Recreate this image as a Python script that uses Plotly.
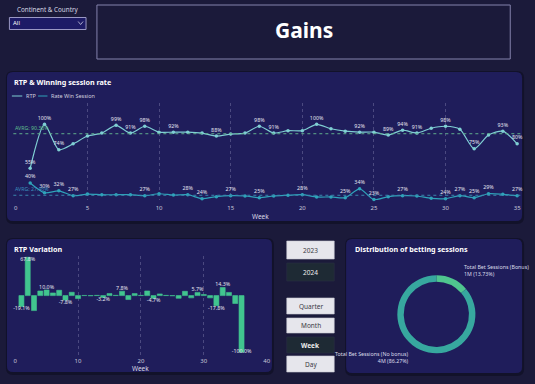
import plotly.graph_objects as go

W, H = 535, 384
PAGE_BG = "#1b1a3a"
PANEL_BG = "#1f1d5b"
FONT = "Noto Sans"

# ---------------- data ----------------
weeks = list(range(1, 36))
rtp = [55, 100, 74, 80, 88, 91, 99, 91, 98, 92, 92, 92, 91, 88, 90, 91, 98, 91,
       93.5, 93.5, 100, 95.5, 93, 92, 92, 89, 94, 91, 96, 98, 95, 75, 89, 93, 80]
rate_win = [40, 30, 32, 27, 28.7, 28, 28, 28, 27, 29, 27.7, 28, 24, 26, 27, 26.7, 25, 26.7,
            27.4, 28, 25.7, 25.7, 25, 34, 23, 26, 27, 26.7, 24.3, 24, 27, 25, 29, 28.4, 27]
rtp_label_weeks = [1, 2, 3, 7, 8, 9, 11, 14, 17, 18, 21, 24, 26, 27, 28, 30, 32, 34, 35]
rate_label_weeks = [1, 2, 3, 4, 9, 12, 13, 15, 17, 20, 23, 24, 25, 27, 30, 31, 32, 33, 35]
rtp_avg = 90.38
rate_avg = 27.46
week_ticks = [0, 5, 10, 15, 20, 25, 30, 35]

var_weeks = list(range(1, 37))
rtp_var = [-19.1, 67.8, -26.5, 8.2, 10.0, 4.7, 9.4, -7.8, 5.9, -5.3, 0.3, -0.3, 0.4, -3.2,
           3.5, 0.5, 7.8, -7.0, 3.5, 0.4, 8.2, -4.7, 3.0, 0.4, -0.3, -4.7, 7.6, -4.0, 5.7,
           2.0, -4.0, -17.8, 14.3, 5.6, -14.0, -100.0]
var_label_weeks = [1, 2, 5, 8, 14, 17, 22, 29, 32, 33, 36]
var_ticks = [0, 10, 20, 30, 40]

session_labels = ["Total Bet Sessions (Bonus)", "Total Bet Sessions (No bonus)"]
session_share = [13.73, 86.27]
session_count = ["1M", "4M"]

years = ["2023", "2024"]
selected_year = "2024"
granularity = ["Quarter", "Month", "Week", "Day"]
selected_gran = "Week"

# ---------------- helpers ----------------
def X(px):
    return px / W


def Y(py):
    return 1 - py / H


def rrect(x0, y0, x1, y1, r, fill, line=None, lw=0):
    rx, ry = r / W, r / H
    a, b = X(x0), X(x1)
    t, d = Y(y0), Y(y1)
    p = (f"M{a+rx},{t} L{b-rx},{t} Q{b},{t} {b},{t-ry} L{b},{d+ry} Q{b},{d} {b-rx},{d} "
         f"L{a+rx},{d} Q{a},{d} {a},{d+ry} L{a},{t-ry} Q{a},{t} {a+rx},{t} Z")
    return dict(type="path", path=p, xref="paper", yref="paper", fillcolor=fill,
                line=dict(color=line or fill, width=lw), layer="below")


def rect(x0, y0, x1, y1, fill, line=None, lw=0):
    return dict(type="rect", xref="paper", yref="paper", x0=X(x0), x1=X(x1), y0=Y(y1), y1=Y(y0),
                fillcolor=fill, line=dict(color=line or fill, width=lw), layer="below")


def text(x, y, s, size, color, bold=False, xanchor="center", align="center"):
    return dict(x=X(x), y=Y(y), xref="paper", yref="paper", text=(f"<b>{s}</b>" if bold else s),
                showarrow=False, xanchor=xanchor, yanchor="middle", align=align,
                font=dict(size=size, color=color, family=FONT))


shapes = []
annotations = []

# shadows + panels
for (x0, y0, x1, y1) in [(5, 72, 526, 221), (5, 239, 273, 372), (348, 239, 526, 373)]:
    shapes.append(rrect(x0 - 1, y0 - 1, x1 + 2, y1 + 3, 7, "rgba(8,8,25,0.45)"))
    shapes.append(rrect(x0, y0, x1, y1, 6, PANEL_BG))

# Gains title box
shapes.append(rect(96, 5, 514, 59, PAGE_BG, "#8583ad", 1))
annotations.append(text(305, 30, "Gains", 21, "#ffffff", bold=True))

# slicer
annotations.append(text(46.5, 10, "Continent &amp; Country", 6.3, "#d8d8e4"))
shapes.append(rect(7.5, 17.5, 85, 29.5, "#1d1b66", "#9a98c4", 1))
annotations.append(text(9.5, 23.5, "All", 6, "#ffffff", xanchor="left"))
shapes.append(dict(type="path", xref="paper", yref="paper",
                   path=f"M{X(77)},{Y(21.5)} L{X(79.5)},{Y(24.5)} L{X(82)},{Y(21.5)}",
                   line=dict(color="#c8c8e0", width=0.8)))

# panel titles
annotations.append(text(10.5, 81.5, "RTP &amp; Winning session rate", 7.2, "#ffffff", bold=True, xanchor="left"))
annotations.append(text(10.5, 248.5, "RTP Variation", 7.2, "#ffffff", bold=True, xanchor="left"))
annotations.append(text(355, 249, "Distribution of betting sessions", 7.2, "#ffffff", bold=True, xanchor="left"))

RTP_C = "#7fcfd3"
RATE_C = "#2fa3ba"
BAR_C = "#41c58f"

# legend (manual)
shapes.append(dict(type="line", xref="paper", yref="paper", x0=X(10), x1=X(20.5), y0=Y(96), y1=Y(96),
                   line=dict(color=RTP_C, width=1)))
annotations.append(text(22.5, 96, "RTP", 5.5, "#d0d0de", xanchor="left"))
shapes.append(dict(type="line", xref="paper", yref="paper", x0=X(36.5), x1=X(46), y0=Y(96), y1=Y(96),
                   line=dict(color=RATE_C, width=1)))
annotations.append(text(47.5, 96, "Rate Win Session", 5.5, "#d0d0de", xanchor="left"))

# average lines
shapes.append(dict(type="line", xref="x domain", yref="y", x0=-0.005, x1=1.008, y0=rtp_avg, y1=rtp_avg,
                   line=dict(color="#5fae8c", width=1, dash="dot")))
shapes.append(dict(type="line", xref="x domain", yref="y", x0=-0.005, x1=1.008, y0=rate_avg, y1=rate_avg,
                   line=dict(color="#3b86ad", width=1, dash="dot")))
annotations.append(dict(x=0, y=rtp_avg, xref="x", yref="y", text=f"AVRG: {rtp_avg:.2f}%", showarrow=False,
                        xanchor="left", yanchor="bottom", xshift=-3, yshift=0,
                        font=dict(size=5.2, color="#5fbf8e", family=FONT)))
annotations.append(dict(x=0, y=rate_avg, xref="x", yref="y", text=f"AVRG: {rate_avg:.2f}%", showarrow=False,
                        xanchor="left", yanchor="bottom", xshift=-3, yshift=0,
                        font=dict(size=5.2, color="#3b8fbd", family=FONT)))

# axis titles
annotations.append(text(261, 216, "Week", 6.5, "#d8d8e4"))
annotations.append(text(140.5, 368.5, "Week", 6.5, "#d8d8e4"))

# buttons
btns = [("2023", 241, 259), ("2024", 263, 281), ("Quarter", 298, 314), ("Month", 318, 333),
        ("Week", 337, 353), ("Day", 356, 372)]
for lab, y0, y1 in btns:
    sel = lab in (selected_year, selected_gran)
    fill = "#1e2a34" if sel else "#e6e6ec"
    shapes.append(rect(288, y0, 336, y1, fill, "#2a2f45" if sel else "#c9c9d3", 0.6))
    annotations.append(text(312, (y0 + y1) / 2, lab, 6.5, "#eeeeee" if sel else "#3a3a44",
                            bold=(lab == selected_gran)))

# donut labels
annotations.append(text(465, 270.3, f"{session_labels[0]}<br>{session_count[0]} ({session_share[0]:.2f}%)",
                        5.3, "#dcdcea", xanchor="left", align="left"))
annotations.append(text(414, 357.5, f"{session_labels[1]}<br>{session_count[1]} ({session_share[1]:.2f}%)",
                        5.3, "#dcdcea", xanchor="right", align="right"))

fig = go.Figure()

lab_font = dict(size=5.3, color="#e4e4f0", family=FONT)
fig.add_trace(go.Scatter(
    x=weeks, y=rtp, mode="lines+markers+text", name="RTP",
    line=dict(color=RTP_C, width=1.2, shape="spline", smoothing=0.7),
    marker=dict(size=3.5, color=RTP_C),
    text=[f"{v:.0f}%" if w in rtp_label_weeks else "" for w, v in zip(weeks, rtp)],
    textposition="top center", textfont=lab_font, cliponaxis=False, hoverinfo="skip",
    xaxis="x", yaxis="y"))
fig.add_trace(go.Scatter(
    x=weeks, y=rate_win, mode="lines+markers+text", name="Rate Win Session",
    line=dict(color=RATE_C, width=1.2, shape="spline", smoothing=0.7),
    marker=dict(size=3.5, color=RATE_C),
    text=[f"{v:.0f}%" if w in rate_label_weeks else "" for w, v in zip(weeks, rate_win)],
    textposition="top center", textfont=lab_font, cliponaxis=False, hoverinfo="skip",
    xaxis="x", yaxis="y"))

fig.add_trace(go.Bar(
    x=var_weeks, y=rtp_var, width=0.8,
    marker=dict(color=BAR_C, line=dict(color=BAR_C, width=0.6)),
    hoverinfo="skip", xaxis="x2", yaxis="y2"))
pos = []
for w, v in zip(var_weeks, rtp_var):
    if v <= -90:
        pos.append("middle center")
    elif v > 50:
        pos.append("bottom center")
    elif v >= 0:
        pos.append("top center")
    else:
        pos.append("bottom center")
fig.add_trace(go.Scatter(
    x=var_weeks, y=rtp_var, mode="text",
    text=[f"{v:.1f}%" if w in var_label_weeks else "" for w, v in zip(var_weeks, rtp_var)],
    textposition=pos, textfont=lab_font, cliponaxis=False, hoverinfo="skip",
    xaxis="x2", yaxis="y2"))

fig.add_trace(go.Pie(
    values=session_share, labels=session_labels, hole=0.835, sort=False, direction="clockwise",
    rotation=0, textinfo="none", marker=dict(colors=["#4fc68f", "#37a89f"], line=dict(width=0)),
    domain=dict(x=[X(399.8), X(478.8)], y=[Y(353.8), Y(274.8)]), hoverinfo="skip", showlegend=False))

axis_common = dict(showgrid=True, griddash="dot", gridcolor="rgba(190,190,225,0.28)", gridwidth=1,
                   zeroline=False, showline=False, ticks="",
                   tickfont=dict(size=6, color="#c8c8da", family=FONT))

fig.update_layout(
    width=W, height=H, autosize=False, margin=dict(l=0, r=0, t=0, b=0),
    paper_bgcolor=PAGE_BG, plot_bgcolor="rgba(0,0,0,0)", showlegend=False, hovermode=False,
    font=dict(family=FONT),
    xaxis=dict(domain=[X(14), X(521)], range=[0, 35], tickvals=week_ticks, anchor="y",
               ticklabelstandoff=3, **axis_common),
    yaxis=dict(domain=[Y(200), Y(103)], range=[22.6, 121.8], visible=False),
    xaxis2=dict(domain=[X(13.3), X(267.7)], range=[0, 40], tickvals=var_ticks, anchor="y2",
                ticklabelstandoff=1, **axis_common),
    yaxis2=dict(domain=[Y(355), Y(256)], range=[-105, 70], visible=False),
    shapes=shapes, annotations=annotations,
)

fig.write_html("out.html", config={"displayModeBar": False},
               post_script="document.body.style.margin='0';document.body.style.background='%s';" % PAGE_BG)
